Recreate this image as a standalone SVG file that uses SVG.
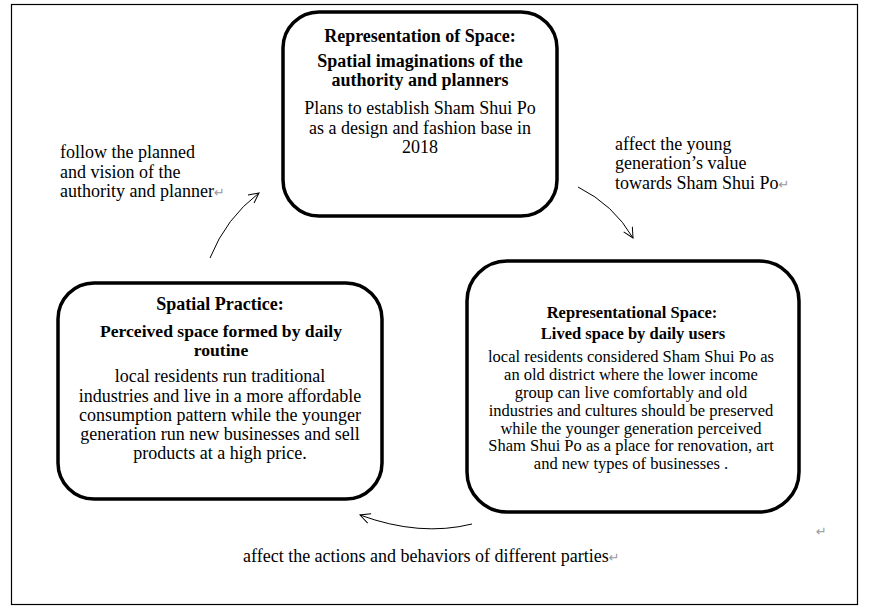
<svg xmlns="http://www.w3.org/2000/svg" width="872" height="608" viewBox="0 0 872 608">
<defs>
<style>
text{font-family:"Liberation Serif","Times New Roman",serif;fill:#000}
.t{font-weight:bold;font-size:18px;text-anchor:middle}
.ts{font-weight:bold;font-size:17.6px;text-anchor:middle}
.b{font-size:18px;text-anchor:middle}
.t2{font-weight:bold;font-size:16.5px;text-anchor:middle}
.b2{font-size:16.5px;text-anchor:middle}
.l{font-size:18px}
.r{fill:#999;font-family:"DejaVu Sans",sans-serif;font-size:13px}
.box{fill:#fff;stroke:#000;stroke-width:3.5}
.c{fill:none;stroke:#000;stroke-width:1}
</style>
<marker id="ah" viewBox="0 0 12 12" refX="11" refY="6" markerWidth="12" markerHeight="12" markerUnits="userSpaceOnUse" orient="auto">
<path d="M1,1 L11,6 L1,11" fill="none" stroke="#000" stroke-width="1"/>
</marker>
</defs>
<rect x="11.5" y="4.5" width="846" height="600" fill="#fff" stroke="#000" stroke-width="1.2"/>
<g id="connectors">
<path class="c" d="M210,258 Q226,218 259,193" marker-end="url(#ah)"/>
<path class="c" d="M578,187 Q614,205 633,238" marker-end="url(#ah)"/>
<path class="c" d="M472,524 Q420,537 360,515" marker-end="url(#ah)"/>
</g>
<g id="representation-of-space">
<rect class="box" x="283" y="12" width="274" height="204" rx="36"/>
<text class="t" x="420" y="42">Representation of Space:</text>
<text class="t" x="420" y="67">Spatial imaginations of the</text>
<text class="t" x="420" y="86">authority and planners</text>
<text class="b" x="420" y="114">Plans to establish Sham Shui Po</text>
<text class="b" x="420" y="134">as a design and fashion base in</text>
<text class="b" x="420" y="153">2018</text>
</g>
<g id="representational-space">
<rect class="box" x="467" y="261" width="332" height="251" rx="40"/>
<text class="t2" x="632" y="318">Representational Space:</text>
<text class="t2" x="633" y="339">Lived space by daily users</text>
<text class="b2" x="631" y="362">local residents considered Sham Shui Po as</text>
<text class="b2" x="631" y="380">an old district where the lower income</text>
<text class="b2" x="631" y="398">group can live comfortably and old</text>
<text class="b2" x="631" y="416">industries and cultures should be preserved</text>
<text class="b2" x="631" y="433.5">while the younger generation perceived</text>
<text class="b2" x="631" y="451">Sham Shui Po as a place for renovation, art</text>
<text class="b2" x="631" y="468.5">and new types of businesses .</text>
</g>
<g id="spatial-practice">
<rect class="box" x="58" y="283" width="324" height="216" rx="36"/>
<text class="t" x="220" y="310">Spatial Practice:</text>
<text class="ts" x="221" y="337">Perceived space formed by daily</text>
<text class="ts" x="221" y="356">routine</text>
<text class="b" x="220" y="382">local residents run traditional</text>
<text class="b" x="220" y="402">industries and live in a more affordable</text>
<text class="b" x="220" y="421">consumption pattern while the younger</text>
<text class="b" x="220" y="440">generation run new businesses and sell</text>
<text class="b" x="220" y="459">products at a high price.</text>
</g>
<g id="labels">
<text class="l" x="60" y="158">follow the planned</text>
<text class="l" x="60" y="178">and vision of the</text>
<text class="l" x="60" y="197">authority and planner<tspan class="r">↵</tspan></text>
<text class="l" x="615" y="150">affect the young</text>
<text class="l" x="615" y="169">generation’s value</text>
<text class="l" x="615" y="189">towards Sham Shui Po<tspan class="r">↵</tspan></text>
<text class="l" x="243" y="562">affect the actions and behaviors of different parties<tspan class="r">↵</tspan></text>
<text class="r" x="816" y="536">↵</text>
</g>
</svg>
